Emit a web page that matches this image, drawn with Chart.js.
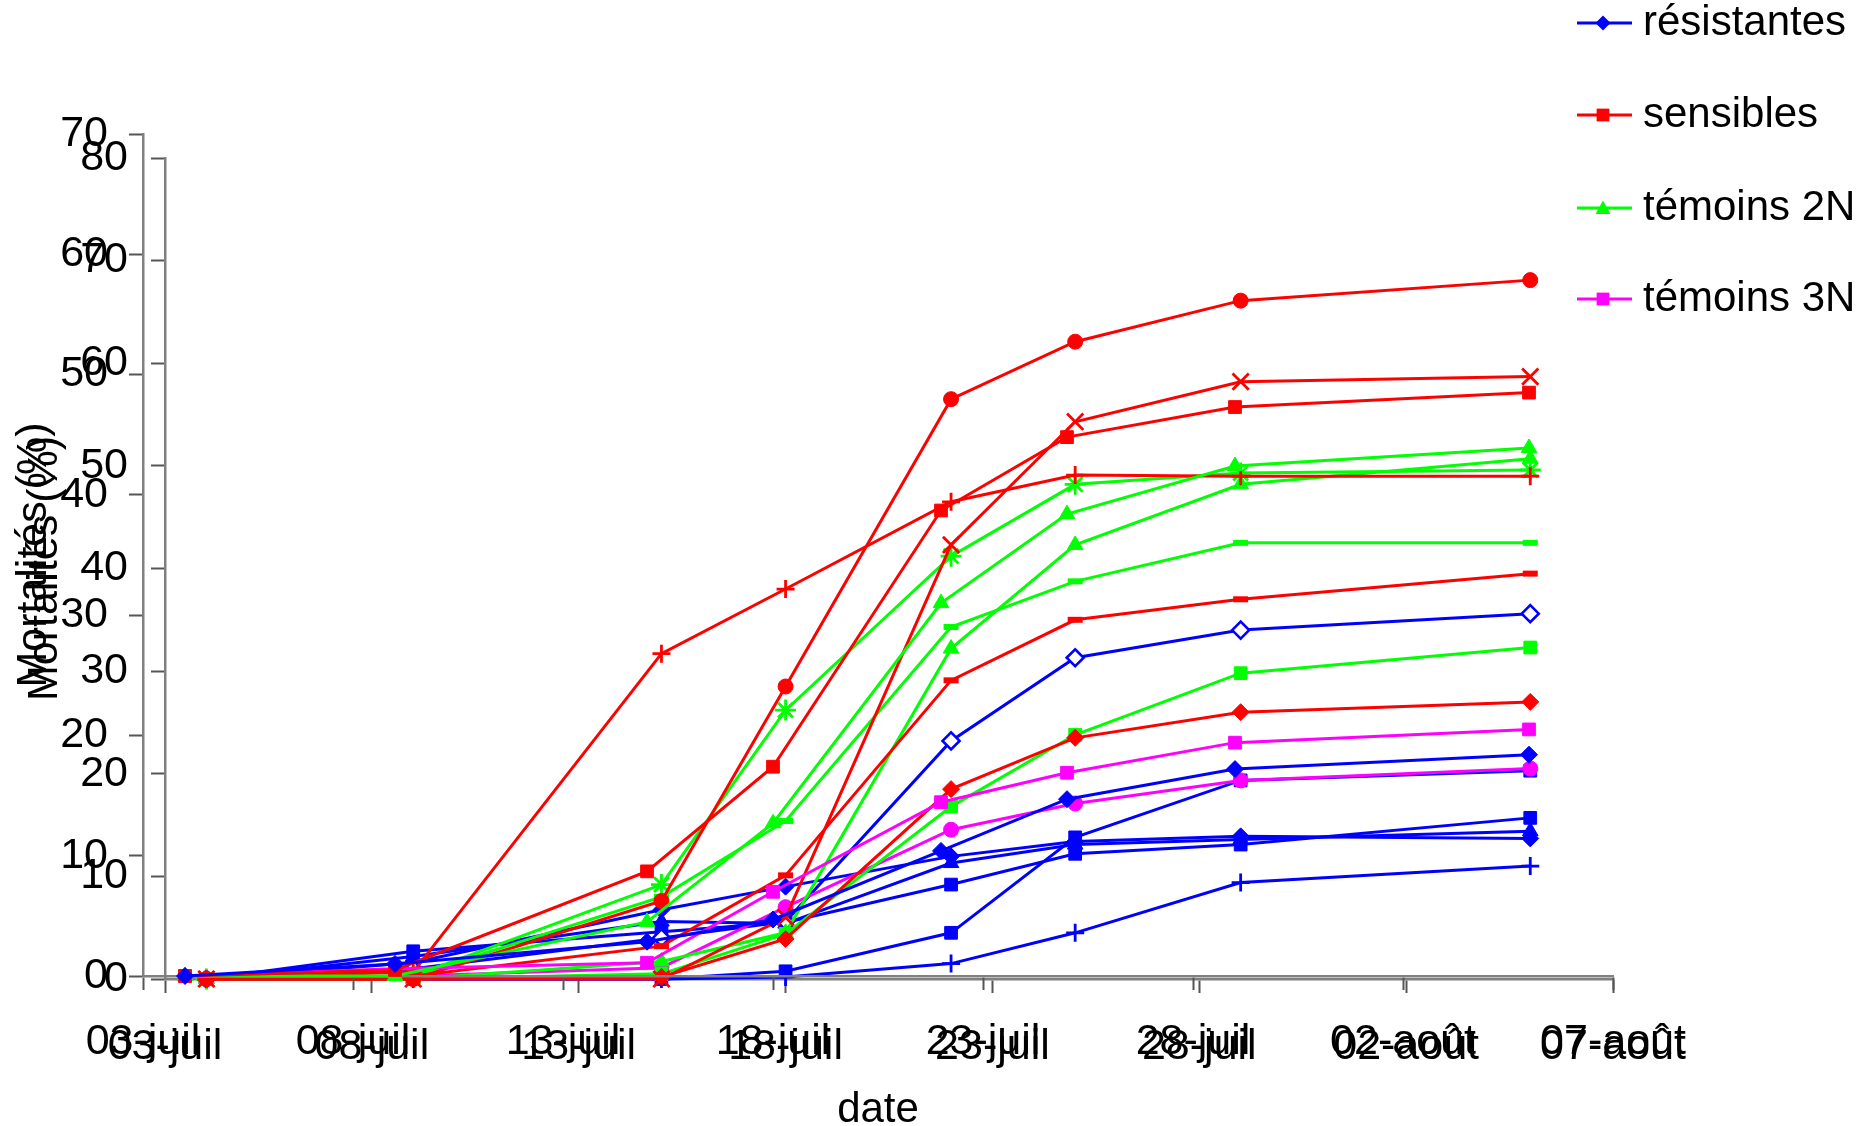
<!DOCTYPE html>
<html><head><meta charset="utf-8">
<script src="https://cdn.jsdelivr.net/npm/chart.js@4"></script>
<style>
html,body{margin:0;padding:0;background:#fff;}
#wrap{position:relative;width:1869px;height:1126px;background:#fff;}
canvas{position:absolute;left:0;top:0;}
</style></head><body>
<div id="wrap"><canvas id="cB" width="1869" height="1126"></canvas><canvas id="cA" width="1869" height="1126"></canvas></div>
<script>
// jours depuis le 03-juil
const days = [1, 6, 12, 15, 19, 22, 26, 33];
const dateLabels = ['04-juil','09-juil','15-juil','18-juil','22-juil','25-juil','29-juil','05-août'];
const xTickLabels = ['03-juil','08-juil','13-juil','18-juil','23-juil','28-juil','02-août','07-août'];
const legendLabels = ['résistantes','sensibles','témoins 2N','témoins 3N'];

// Graphique A (échelle 0-70)
const resistantes = [0, 1.0, 2.85, 4.7, 10.4, 14.7, 17.2, 18.4];
const sensibles   = [0, 0.5, 8.7, 17.4, 38.7, 44.8, 47.3, 48.5];
const temoins2N   = [0, 0, 4.5, 12.7, 31.0, 38.4, 42.4, 43.9];
const temoins3N   = [0, 0.6, 1.1, 7.0, 14.45, 16.9, 19.4, 20.5];

// Graphique B (échelle 0-80)
const resB1  = [0, 1.6, 6.75, 9.0, 11.95, 13.4, 13.9, 13.7];
const resB2  = [0, 2.7, 4.6, 5.5, 9.2, 12.2, 13.1, 15.7];
const resB3  = [0, 2.2, 5.6, 5.4, 11.3, 13.1, 13.6, 14.4];
const resB4  = [0, 1.0, 4.0, 5.6, 23.2, 31.3, 34.0, 35.6];
const resB5  = [0, 0, 0, 0.75, 4.5, 13.8, 19.35, 20.3];
const resB6  = [0, 0, 0, 0.2, 1.5, 4.5, 9.4, 11.0];
const sensB1 = [0, 0, 0.2, 3.9, 18.5, 23.5, 26.0, 27.0];
const sensB2 = [0, 0, 0, 6.0, 42.3, 54.3, 58.2, 58.7];
const sensB3 = [0, 0, 7.6, 28.5, 56.5, 62.1, 66.1, 68.1];
const sensB4 = [0, 0.7, 31.7, 38.0, 46.5, 49.1, 49.0, 49.0];
const sensB5 = [0, 0.3, 3.2, 10.1, 29.1, 35.0, 37.0, 39.5];
const tem2B1 = [0, 0, 1.7, 4.5, 32.2, 42.3, 48.2, 50.7];
const tem2B2 = [0, 0.3, 9.2, 26.2, 41.2, 48.2, 49.3, 49.6];
const tem2B3 = [0, 0.3, 8.0, 15.4, 34.3, 38.75, 42.5, 42.5];
const tem2B4 = [0, 0, 0.5, 4.4, 16.8, 23.8, 29.8, 32.3];
const tem3B1 = [0, 0.3, 1.1, 7.0, 14.55, 17.1, 19.35, 20.5];

const BLUE='#0000FF', RED='#FF0000', GREEN='#00FF00', PINK='#FF00FF';
const FONT='"Liberation Sans", Arial, sans-serif';
Chart.defaults.font.family = FONT;

const R = {rect:9, rectRot:8.5, triangle:9, circle:7.5, cross:9, crossRot:11.5, star:10.5, line:7.5};
const BW = {rect:1, rectRot:1, triangle:1, circle:1, cross:2.8, crossRot:2.8, star:2.8, line:6};

function ds(label, values, color, style, open){
  return {
    label: label,
    data: days.map((d,i)=>({x:d, y:values[i]})),
    borderColor: color, backgroundColor: color, borderWidth: 3,
    pointStyle: style, pointRadius: R[style], pointHoverRadius: R[style],
    pointBackgroundColor: open ? '#fff' : color, pointBorderColor: color,
    pointBorderWidth: open ? 2.6 : BW[style],
    tension: 0, clip: false, fill: false
  };
}

function axisOpts(o){
  return {
    x: {type:'linear', min:0, max:35,
      afterFit(s){ s.height = o.xH; },
      ticks:{stepSize:5, autoSkip:false, maxRotation:0, minRotation:0, padding:o.xPad, color:'#000', font:{size:43},
        callback:(v)=>xTickLabels[Math.round(v/5)]},
      grid:{drawOnChartArea:false, drawTicks:true, tickLength:14, tickColor:'#555', tickWidth:2, color:'#555'},
      border:{display:true, color:'#808080', width:2.5},
      title:{display:o.xTitle, text:'date', color:'#000', font:{size:42}, padding:{top:0, bottom:-10}}
    },
    y: {min:0, max:o.yMax,
      afterFit(s){ s.width = o.yW; },
      ticks:{stepSize:10, padding:o.yPad, color:'#000', font:{size:43}},
      grid:{drawOnChartArea:false, drawTicks:true, tickLength:14, tickColor:'#555', tickWidth:2, color:'#555'},
      border:{display:true, color:'#808080', width:2.5},
      title:{display:true, text:'Mortalités (%)', color:'#000', font:{size:43}, padding:{top:o.tPad, bottom:0}}
    }
  };
}

function marker(ctx, style, x, y, r, color){
  ctx.fillStyle = color; ctx.beginPath();
  if(style==='rectRot'){ ctx.moveTo(x, y-r); ctx.lineTo(x+r, y); ctx.lineTo(x, y+r); ctx.lineTo(x-r, y); }
  else if(style==='triangle'){ ctx.moveTo(x, y-r); ctx.lineTo(x+r, y+r*0.8); ctx.lineTo(x-r, y+r*0.8); }
  else { ctx.rect(x-r*0.85, y-r*0.85, 1.7*r, 1.7*r); }
  ctx.closePath(); ctx.fill();
}

const legendPlugin = {
  id:'customLegend',
  afterDraw(chart){
    const ctx = chart.ctx; ctx.save();
    const rows = [23, 115, 208, 299];
    chart.data.datasets.forEach((d,i)=>{
      const y = rows[i];
      ctx.strokeStyle = d.borderColor; ctx.lineWidth = 3;
      ctx.beginPath(); ctx.moveTo(1577, y); ctx.lineTo(1632, y); ctx.stroke();
      marker(ctx, d.pointStyle, 1603, y, 7.5, d.borderColor);
      ctx.fillStyle = '#000'; ctx.font = '42px ' + FONT;
      ctx.textBaseline = 'middle'; ctx.textAlign = 'left';
      ctx.fillText(legendLabels[i], 1643, y);
    });
    ctx.restore();
  }
};

new Chart(document.getElementById('cB'), {
  type:'line',
  data:{datasets:[
    ds('sensibles B3', sensB3, RED, 'circle'),
    ds('sensibles B2', sensB2, RED, 'crossRot'),
    ds('sensibles B4', sensB4, RED, 'cross'),
    ds('sensibles B5', sensB5, RED, 'line'),
    ds('sensibles B1', sensB1, RED, 'rectRot'),
    ds('témoins 2N B1', tem2B1, GREEN, 'triangle'),
    ds('témoins 2N B2', tem2B2, GREEN, 'star'),
    ds('témoins 2N B3', tem2B3, GREEN, 'line'),
    ds('témoins 2N B4', tem2B4, GREEN, 'rect'),
    ds('témoins 3N B1', tem3B1, PINK, 'circle'),
    ds('résistantes B4', resB4, BLUE, 'rectRot', true),
    ds('résistantes B1', resB1, BLUE, 'rectRot'),
    ds('résistantes B2', resB2, BLUE, 'rect'),
    ds('résistantes B3', resB3, BLUE, 'triangle'),
    ds('résistantes B5', resB5, BLUE, 'rect'),
    ds('résistantes B6', resB6, BLUE, 'cross')
  ]},
  options:{
    responsive:false, animation:false, devicePixelRatio:1,
    layout:{padding:{left:0, top:158, right:256, bottom:0}},
    plugins:{legend:{display:false}, tooltip:{enabled:false}},
    scales: axisOpts({xH:147, xPad:28, xTitle:false, yMax:80, yW:165, yPad:23, tPad:19})
  }
});

new Chart(document.getElementById('cA'), {
  type:'line',
  data:{datasets:[
    ds(legendLabels[0], resistantes, BLUE, 'rectRot'),
    ds(legendLabels[1], sensibles, RED, 'rect'),
    ds(legendLabels[2], temoins2N, GREEN, 'triangle'),
    ds(legendLabels[3], temoins3N, PINK, 'rect')
  ]},
  options:{
    responsive:false, animation:false, devicePixelRatio:1,
    layout:{padding:{left:0, top:134, right:256, bottom:0}},
    plugins:{legend:{display:false}, tooltip:{enabled:false}},
    scales: axisOpts({xH:150, xPad:26, xTitle:true, yMax:70, yW:143, yPad:21, tPad:8})
  },
  plugins:[legendPlugin]
});
</script>
</body></html>
